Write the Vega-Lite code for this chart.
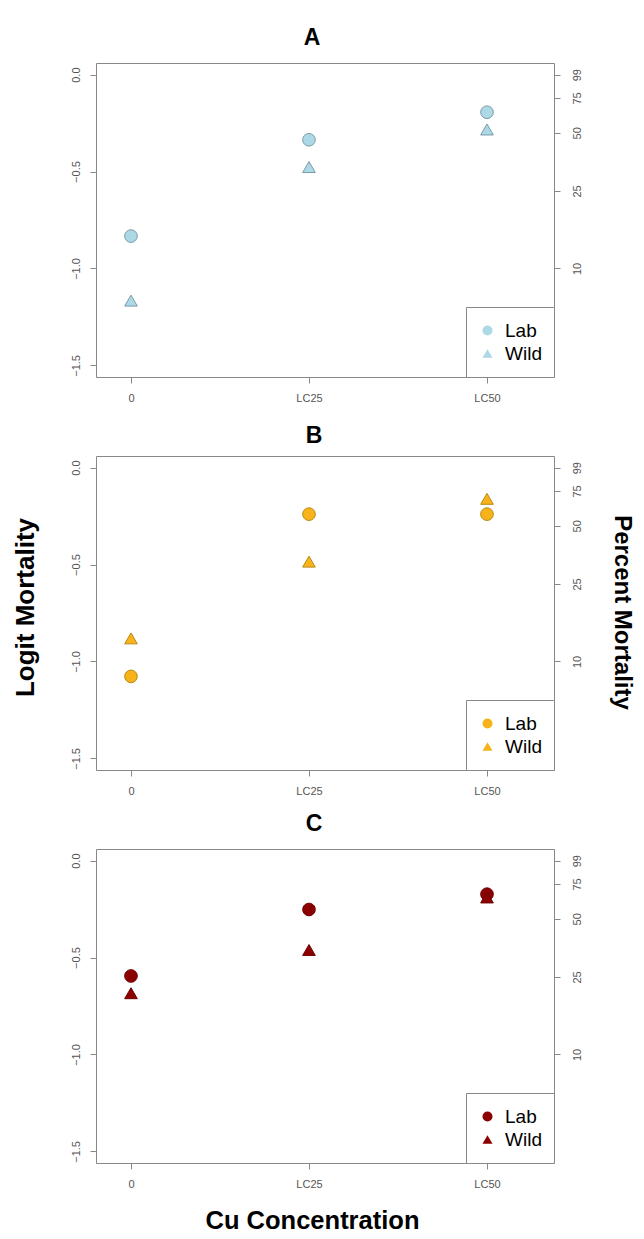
{
  "$schema": "https://vega.github.io/schema/vega-lite/v6.json",
  "padding": {"left": 11, "top": 26, "right": 8, "bottom": 0},
  "background": "white",
  "data": {"values": [
    {"panel": "A", "conc": "0", "strain": "Lab", "logit": -0.833},
    {"panel": "A", "conc": "LC25", "strain": "Lab", "logit": -0.336},
    {"panel": "A", "conc": "LC50", "strain": "Lab", "logit": -0.194},
    {"panel": "A", "conc": "0", "strain": "Wild", "logit": -1.166},
    {"panel": "A", "conc": "LC25", "strain": "Wild", "logit": -0.477},
    {"panel": "A", "conc": "LC50", "strain": "Wild", "logit": -0.283},
    {"panel": "B", "conc": "0", "strain": "Lab", "logit": -1.077},
    {"panel": "B", "conc": "LC25", "strain": "Lab", "logit": -0.24},
    {"panel": "B", "conc": "LC50", "strain": "Lab", "logit": -0.24},
    {"panel": "B", "conc": "0", "strain": "Wild", "logit": -0.881},
    {"panel": "B", "conc": "LC25", "strain": "Wild", "logit": -0.485},
    {"panel": "B", "conc": "LC50", "strain": "Wild", "logit": -0.161},
    {"panel": "C", "conc": "0", "strain": "Lab", "logit": -0.595},
    {"panel": "C", "conc": "LC25", "strain": "Lab", "logit": -0.252},
    {"panel": "C", "conc": "LC50", "strain": "Lab", "logit": -0.173},
    {"panel": "C", "conc": "0", "strain": "Wild", "logit": -0.684},
    {"panel": "C", "conc": "LC25", "strain": "Wild", "logit": -0.461},
    {"panel": "C", "conc": "LC50", "strain": "Wild", "logit": -0.19}
  ]},
  "bounds": "flush",
  "spacing": 79,
  "resolve": {"scale": {"shape": "independent", "x": "independent", "y": "independent"}, "legend": {"shape": "independent"}},
  "config": {
    "font": "Liberation Sans",
    "view": {"stroke": "#888888", "strokeWidth": 1},
    "axis": {"grid": false, "domain": false, "tickColor": "#888888", "tickSize": 6, "labelColor": "#555555", "labelFontSize": 11, "labelFont": "Liberation Sans", "titleFont": "Liberation Sans", "titleFontWeight": "bold", "titleFontSize": 26, "titleColor": "black"},
    "title": {"fontSize": 23, "fontWeight": "bold", "font": "Liberation Sans", "color": "black", "baseline": "alphabetic", "anchor": "middle"},
    "legend": {"orient": "bottom-right", "offset": 0, "strokeColor": "#888888", "fillColor": "white", "padding": 12, "labelFontSize": 19, "labelFont": "Liberation Sans", "labelColor": "black", "symbolSize": 100, "rowPadding": 0, "clipHeight": 23, "labelOffset": 8, "cornerRadius": 0, "symbolStrokeWidth": 0}
  },
  "vconcat": [
    {
      "width": 458, "height": 314,
      "title": {"text": "A", "offset": 13, "dx": -13},
      "transform": [{"filter": "datum.panel == 'A'"}],
      "layer": [
        {
          "mark": {"type": "point", "filled": true, "fill": "#ADD8E6", "stroke": "#7b9ba6", "strokeWidth": 1, "opacity": 1, "size": 160},
          "encoding": {
            "x": {"field": "conc", "type": "nominal", "sort": ["0", "LC25", "LC50"], "scale": {"type": "point", "padding": 0.2865, "align": 0.343}, "axis": {"title": null, "labelAngle": 0, "labelPadding": 9}},
            "y": {"field": "logit", "type": "quantitative", "scale": {"domain": [-1.56, 0.06], "nice": false, "zero": false}, "axis": {"title": null, "orient": "left", "values": [0, -0.5, -1, -1.5], "format": ".1f", "labelAngle": -90, "labelPadding": 9}},
            "shape": {"field": "strain", "type": "nominal", "scale": {"domain": ["Lab", "Wild"], "range": ["circle", "triangle-up"]}, "legend": {"title": null, "symbolFillColor": "#ADD8E6"}}
          }
        },
        {
          "mark": {"type": "point", "opacity": 0},
          "encoding": {
            "x": {"field": "conc", "type": "nominal", "sort": ["0", "LC25", "LC50"]},
            "y": {"field": "logit", "type": "quantitative", "axis": {"title": null, "orient": "right", "values": [0, -0.12, -0.3, -0.6, -1], "labelExpr": "datum.value > -0.05 ? '99' : datum.value > -0.2 ? '75' : datum.value > -0.45 ? '50' : datum.value > -0.8 ? '25' : '10'", "labelAngle": -90, "labelPadding": 11}}
          }
        }
      ],
      "resolve": {"axis": {"y": "independent"}}
    },
    {
      "width": 458, "height": 314,
      "title": {"text": "B", "offset": 8, "dx": -11},
      "transform": [{"filter": "datum.panel == 'B'"}],
      "layer": [
        {
          "mark": {"type": "point", "filled": true, "fill": "#F7B319", "stroke": "#b88a14", "strokeWidth": 1, "opacity": 1, "size": 160},
          "encoding": {
            "x": {"field": "conc", "type": "nominal", "sort": ["0", "LC25", "LC50"], "scale": {"type": "point", "padding": 0.2865, "align": 0.343}, "axis": {"title": null, "labelAngle": 0, "labelPadding": 9}},
            "y": {"field": "logit", "type": "quantitative", "scale": {"domain": [-1.56, 0.06], "nice": false, "zero": false}, "axis": {"title": "Logit Mortality", "titleAngle": -90, "titleX": -71, "titleY": 151, "titleAlign": "center", "titleBaseline": "middle", "orient": "left", "values": [0, -0.5, -1, -1.5], "format": ".1f", "labelAngle": -90, "labelPadding": 9}},
            "shape": {"field": "strain", "type": "nominal", "scale": {"domain": ["Lab", "Wild"], "range": ["circle", "triangle-up"]}, "legend": {"title": null, "symbolFillColor": "#F7B319"}}
          }
        },
        {
          "mark": {"type": "point", "opacity": 0},
          "encoding": {
            "x": {"field": "conc", "type": "nominal", "sort": ["0", "LC25", "LC50"]},
            "y": {"field": "logit", "type": "quantitative", "axis": {"title": "Percent Mortality", "titleFontSize": 24, "titleAngle": 90, "titleX": 67, "titleY": 156, "titleAlign": "center", "titleBaseline": "middle", "orient": "right", "values": [0, -0.12, -0.3, -0.6, -1], "labelExpr": "datum.value > -0.05 ? '99' : datum.value > -0.2 ? '75' : datum.value > -0.45 ? '50' : datum.value > -0.8 ? '25' : '10'", "labelAngle": -90, "labelPadding": 11}}
          }
        }
      ],
      "resolve": {"axis": {"y": "independent"}}
    },
    {
      "width": 458, "height": 314,
      "title": {"text": "C", "offset": 13, "dx": -11},
      "transform": [{"filter": "datum.panel == 'C'"}],
      "layer": [
        {
          "mark": {"type": "point", "filled": true, "fill": "#8B0000", "stroke": "#700000", "strokeWidth": 1, "opacity": 1, "size": 160},
          "encoding": {
            "x": {"field": "conc", "type": "nominal", "sort": ["0", "LC25", "LC50"], "scale": {"type": "point", "padding": 0.2865, "align": 0.343}, "axis": {"title": "Cu Concentration", "titleFontSize": 25.5, "titleX": 216, "titleY": 57, "titleAlign": "center", "titleBaseline": "middle", "labelAngle": 0, "labelPadding": 9}},
            "y": {"field": "logit", "type": "quantitative", "scale": {"domain": [-1.56, 0.06], "nice": false, "zero": false}, "axis": {"title": null, "orient": "left", "values": [0, -0.5, -1, -1.5], "format": ".1f", "labelAngle": -90, "labelPadding": 9}},
            "shape": {"field": "strain", "type": "nominal", "scale": {"domain": ["Lab", "Wild"], "range": ["circle", "triangle-up"]}, "legend": {"title": null, "symbolFillColor": "#8B0000"}}
          }
        },
        {
          "mark": {"type": "point", "opacity": 0},
          "encoding": {
            "x": {"field": "conc", "type": "nominal", "sort": ["0", "LC25", "LC50"]},
            "y": {"field": "logit", "type": "quantitative", "axis": {"title": null, "orient": "right", "values": [0, -0.12, -0.3, -0.6, -1], "labelExpr": "datum.value > -0.05 ? '99' : datum.value > -0.2 ? '75' : datum.value > -0.45 ? '50' : datum.value > -0.8 ? '25' : '10'", "labelAngle": -90, "labelPadding": 11}}
          }
        }
      ],
      "resolve": {"axis": {"y": "independent"}}
    }
  ]
}
